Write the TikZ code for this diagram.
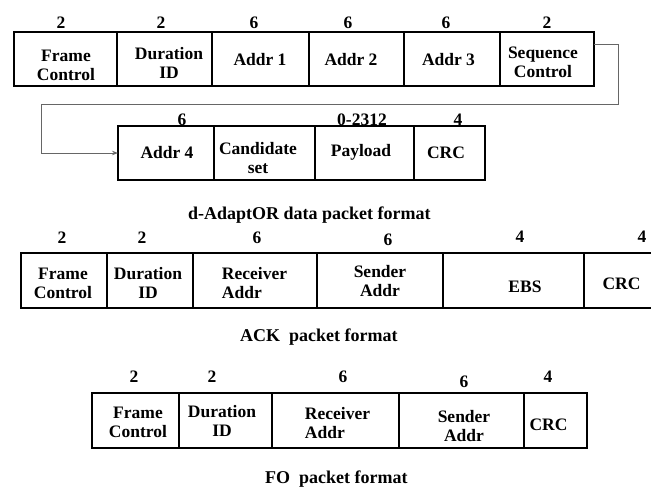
\documentclass[tikz,border=0pt]{standalone}
\usepackage{fontspec}
\setmainfont{Liberation Serif}
\usetikzlibrary{arrows.meta}

\tikzset{
  cellbox/.style={draw=black, line width=1.5pt, inner sep=0pt, outer sep=0pt},
  celltext/.style={font=\bfseries\fontsize{17.5}{19}\selectfont, align=center, inner sep=0pt},
  fieldlen/.style={font=\bfseries\fontsize{17.5}{19}\selectfont, anchor=base, inner sep=0pt},
  pktcaption/.style={font=\bfseries\fontsize{18}{20}\selectfont, anchor=base west, inner sep=0pt},
  link/.style={draw=black!60, line width=0.9pt},
}

% \pktfield[text options]{name}{x left}{x right}{y top}{y bottom}{text x}{text y}{text}
\newcommand\pktfield[9][]{%
  \node[cellbox, anchor=north west, minimum width=#4pt-#3pt, minimum height=#6pt-#5pt] (#2) at (#3,#5) {};
  \node[celltext, #1] (#2-t) at (#7,#8) {#9};}

\begin{document}
\begin{tikzpicture}[x=1pt, y=-1pt]
\clip (0,0) rectangle (651,488);

% ---- d-AdaptOR data packet, first line
\pktfield{fc1}{14}{117}{32}{86}{66}{65.5}{Frame\\Control}
\pktfield{du1}{117}{212}{32}{86}{169}{62.5}{Duration\\ID}
\pktfield{a1}{212}{309}{32}{86}{260}{60}{Addr 1}
\pktfield{a2}{309}{404}{32}{86}{351}{60}{Addr 2}
\pktfield{a3}{404}{500}{32}{86}{448.5}{60}{Addr 3}
\pktfield{sq}{500}{594}{32}{86}{543}{62.5}{Sequence\\Control}

\node[fieldlen] (n11) at (61,28) {2};
\node[fieldlen] (n12) at (161,28) {2};
\node[fieldlen] (n13) at (254,28) {6};
\node[fieldlen] (n14) at (348,28) {6};
\node[fieldlen] (n15) at (446,28) {6};
\node[fieldlen] (n16) at (547,28) {2};

% ---- d-AdaptOR data packet, second line
\pktfield{a4}{118}{214}{126}{180}{167}{153}{Addr 4}
\pktfield{cs}{214}{315}{126}{180}{258}{158}{Candidate\\set}
\pktfield{pl}{315}{414}{126}{180}{361}{152}{Payload}
\pktfield{crc2}{414}{485}{126}{180}{446}{153}{CRC}

\node[fieldlen] (n21) at (182,125) {6};
\node[fieldlen] (n22) at (362,125) {0-2312};
\node[fieldlen] (n23) at (458,125) {4};

% continuation of the data packet onto the second line
\coordinate (bendR) at (618,104);
\coordinate (bendL) at (41,104);
\draw[link, -{Stealth[length=6pt,width=4.5pt]}]
  ([yshift=-12pt]sq.north east) -| (bendR) -- (bendL) |- (a4.west);

\node[pktcaption] (cap1) at (188,219) {d-AdaptOR data packet format};

% ---- ACK packet
\pktfield{fc3}{21}{107}{253}{308}{63}{283.5}{Frame\\Control}
\pktfield{du3}{107}{193}{253}{308}{148}{282.5}{Duration\\ID}
\pktfield[align=left]{ra3}{193}{317}{253}{308}{254.5}{283.5}{Receiver\\Addr}
\pktfield{sa3}{317}{443}{253}{308}{380}{281.5}{Sender\\Addr}
\pktfield{ebs}{443}{584}{253}{308}{525}{286.5}{EBS}
\pktfield{crc3}{584}{660}{253}{308}{621.5}{283.5}{CRC}

\node[fieldlen] (n31) at (62,243) {2};
\node[fieldlen] (n32) at (142,243) {2};
\node[fieldlen] (n33) at (257,243) {6};
\node[fieldlen] (n34) at (388,245) {6};
\node[fieldlen] (n35) at (520,242) {4};
\node[fieldlen] (n36) at (642,242) {4};

\node[pktcaption] (cap2) at (240,341) {ACK\ \ packet format};

% ---- FO packet
\pktfield{fc4}{92}{179}{393}{448}{138}{422.5}{Frame\\Control}
\pktfield{du4}{179}{272}{393}{448}{222}{421}{Duration\\ID}
\pktfield[align=left]{ra4}{272}{399}{393}{448}{337.5}{423.5}{Receiver\\Addr}
\pktfield{sa4}{399}{524}{393}{448}{464}{426.5}{Sender\\Addr}
\pktfield{crc4}{524}{587}{393}{448}{548.5}{425}{CRC}

\node[fieldlen] (n41) at (134,382) {2};
\node[fieldlen] (n42) at (212,382) {2};
\node[fieldlen] (n43) at (343,382) {6};
\node[fieldlen] (n44) at (464,387) {6};
\node[fieldlen] (n45) at (548,382) {4};

\node[pktcaption] (cap3) at (265,483) {FO\ \ packet format};
\end{tikzpicture}
\end{document}
